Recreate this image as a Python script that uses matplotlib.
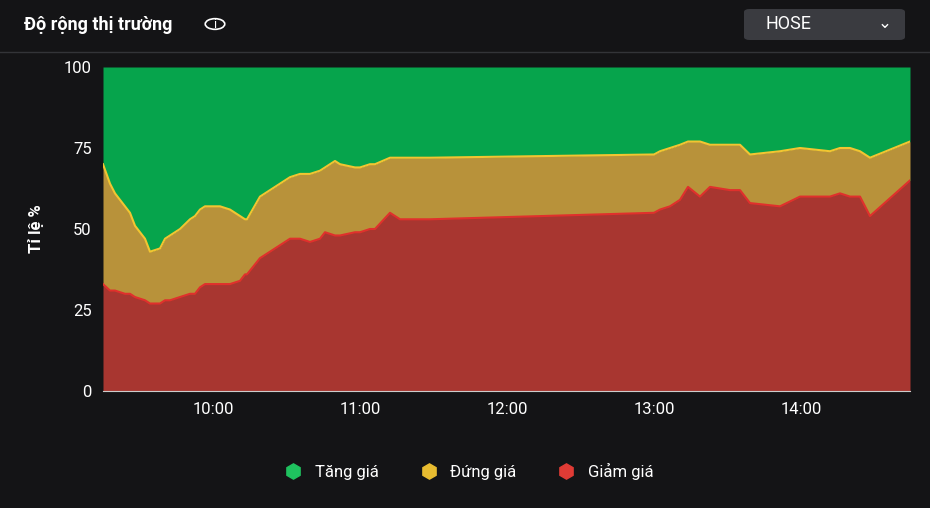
import matplotlib.pyplot as plt
import numpy as np
from matplotlib.lines import Line2D
from matplotlib.patches import FancyBboxPatch, Circle

plt.rcParams['font.family'] = ['Roboto', 'DejaVu Sans']

# pixel x positions -> converted to hours below
px = [103, 110, 115, 125, 130, 135, 145, 150, 160, 165, 170, 180, 190, 195, 200, 205,
      220, 230, 240, 245, 247, 260, 280, 290, 300, 310, 320, 325, 335, 340, 355, 360,
      370, 375, 390, 400, 430, 654, 660, 670, 680, 688, 700, 710, 730, 740, 750, 780,
      800, 830, 840, 850, 860, 870, 910]
down = [33, 31, 31, 30, 30, 29, 28, 27, 27, 28, 28, 29, 30, 30, 32, 33,
        33, 33, 34, 36, 36, 41, 45, 47, 47, 46, 47, 49, 48, 48, 49, 49,
        50, 50, 55, 53, 53, 55, 56, 57, 59, 63, 60, 63, 62, 62, 58, 57,
        60, 60, 61, 60, 60, 54, 65]
top = [70, 64, 61, 57, 55, 51, 47, 43, 44, 47, 48, 50, 53, 54, 56, 57,
       57, 56, 54, 53, 53, 60, 64, 66, 67, 67, 68, 69, 71, 70, 69, 69,
       70, 70, 72, 72, 72, 73, 74, 75, 76, 77, 77, 76, 76, 76, 73, 74,
       75, 74, 75, 75, 74, 72, 77]

hours = [10 + (p - 213) / 147.0 for p in px]
tick_hours = [10, 11, 12, 13, 14]
tick_labels = ['10:00', '11:00', '12:00', '13:00', '14:00']

bg = '#141416'
green, yellow, red = '#06a44c', '#b8923a', '#a83630'

fig = plt.figure(figsize=[9.3, 5.08], dpi=100, facecolor=bg)
ax = fig.add_axes([103/930, 1-391/508, 807/930, 324/508])
ax.set_facecolor(bg)

x = np.array(hours)
d = np.array(down)
t = np.array(top)
ax.fill_between(x, 0, d, color=red, lw=0)
ax.fill_between(x, d, t, color=yellow, lw=0)
ax.fill_between(x, t, 100, color=green, lw=0)
ax.plot(x, d, color='#e0302c', lw=1.5)
ax.plot(x, t, color='#f2c531', lw=1.5)

ax.set_xlim(x[0], x[-1])
ax.set_ylim(0, 100)
ax.set_yticks([0, 25, 50, 75, 100])
ax.set_xticks(tick_hours)
ax.set_xticklabels(tick_labels)
ax.tick_params(colors='white', labelsize=12, length=0, pad=8)
for s in ['top', 'right', 'left']:
    ax.spines[s].set_visible(False)
ax.spines['bottom'].set_color('#cccccc')
ax.set_ylabel('Tỉ lệ %', color='white', fontsize=12, fontweight='bold', labelpad=14)

# header
fig.text(24/930, 1-25/508, 'Độ rộng thị trường', color='white', fontsize=13,
         fontweight='bold', va='center')
fig.patches.append(Circle((215/930, 1-24/508), 0.0105, transform=fig.transFigure,
                          fill=False, ec='white', lw=1.2))
fig.text(215/930, 1-24/508, 'i', color='white', fontsize=9, ha='center', va='center')
fig.patches.append(FancyBboxPatch((744/930, 1-40/508), 161/930, 31/508,
                                  boxstyle='round,pad=0,rounding_size=0.006',
                                  transform=fig.transFigure, fc='#3a3b40', ec='none'))
fig.text(765/930, 1-24/508, 'HOSE', color='white', fontsize=13, va='center')
fig.text(885/930, 1-24/508, '⌄', color='white', fontsize=12, ha='center', va='center')
fig.add_artist(Line2D([0, 1], [1-52/508, 1-52/508], color='#333438', lw=1))

handles = [Line2D([], [], ls='', marker='h', ms=11, color=c) for c in ['#1fc25f', '#e8bc30', '#e03b35']]
fig.legend(handles, ['Tăng giá', 'Đứng giá', 'Giảm giá'], loc='center',
           bbox_to_anchor=(0.5, 1-471/508), ncol=3, frameon=False,
           labelcolor='white', fontsize=12, handletextpad=0.3, columnspacing=2)

plt.savefig('out.png', facecolor=bg)
